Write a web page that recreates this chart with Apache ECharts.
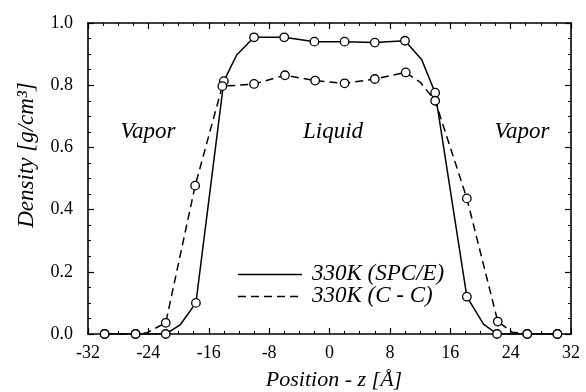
<!DOCTYPE html>
<html><head><meta charset="utf-8">
<script src="https://cdn.jsdelivr.net/npm/echarts@6/dist/echarts.min.js"></script>
<style>html,body{margin:0;padding:0;background:#fff}#c{width:586px;height:392px}</style>
</head><body><div id="c"></div>
<script>
// x ticks / y ticks
const xTicks = [-32, -24, -16, -8, 0, 8, 16, 24, 32];
const yTicks = [0.0, 0.2, 0.4, 0.6, 0.8, 1.0];

// SPC/E (solid) – sampled points shown with circles
const spceZ = [-29.8, -25.7, -21.7, -17.7, -14.0, -10.0, -6.0, -2.0, 2.0, 6.0, 10.0, 14.0, 18.2, 22.2, 26.2, 30.2];
const spceRho = [0, 0, 0, 0.10, 0.813, 0.954, 0.954, 0.940, 0.940, 0.937, 0.943, 0.776, 0.12, 0, 0, 0];
// SPC/E intermediate line vertices (no circles)
const spceZMid = [-19.8, -12.3, 12.2, 20.4];
const spceRhoMid = [0.029, 0.897, 0.883, 0.032];

// C - C (dashed) – sampled points shown with circles
const ccZ = [-29.8, -25.7, -21.7, -17.8, -14.2, -10.0, -5.9, -1.9, 2.0, 6.0, 10.1, 14.0, 18.2, 22.3, 26.2, 30.2];
const ccRho = [0, 0, 0.036, 0.477, 0.797, 0.804, 0.832, 0.815, 0.806, 0.820, 0.841, 0.750, 0.436, 0.040, 0, 0];
// C - C intermediate line vertices
const ccZMid = [-24.2, -12.0, 12.0, 24.2];
const ccRhoMid = [0.004, 0.800, 0.810, 0.006];

const seriesNames = ['330K (SPC/E)', '330K (C - C)'];
const regionLabels = ['Vapor', 'Liquid', 'Vapor'];

function merge(z1, y1, z2, y2) {
  const pts = z1.map((z, i) => [z, y1[i]]).concat(z2.map((z, i) => [z, y2[i]]));
  pts.sort((a, b) => a[0] - b[0]);
  return pts;
}
const pair = (z, y) => z.map((v, i) => [v, y[i]]);

const FONT = 'Liberation Serif';
const chart = echarts.init(document.getElementById('c'), null, {renderer: 'canvas'});

const xBase = {
  type: 'value', min: xTicks[0], max: xTicks[xTicks.length - 1], interval: 8,
  axisLine: {show: true, onZero: false, lineStyle: {color: '#000', width: 1.6}},
  axisTick: {show: true, inside: true, length: 6, lineStyle: {color: '#000', width: 1.2}},
  minorTick: {show: true, splitNumber: 4, length: 3, lineStyle: {color: '#000', width: 1.1}},
  splitLine: {show: false}
};
const yBase = {
  type: 'value', min: yTicks[0], max: yTicks[yTicks.length - 1], interval: 0.2,
  axisLine: {show: true, onZero: false, lineStyle: {color: '#000', width: 1.6}},
  axisTick: {show: true, inside: true, length: 6, lineStyle: {color: '#000', width: 1.2}},
  minorTick: {show: true, splitNumber: 4, length: 3, lineStyle: {color: '#000', width: 1.1}},
  splitLine: {show: false}
};

const markerStyle = {color: '#fff', borderColor: '#000', borderWidth: 1.3, opacity: 1};

chart.setOption({
  animation: false,
  backgroundColor: '#fff',
  grid: {left: 88, right: 15, top: 23, bottom: 58},
  xAxis: [
    Object.assign({}, xBase, {position: 'bottom',
      axisLabel: {show: true, margin: 10, color: '#000', fontFamily: FONT, fontSize: 18,
        formatter: v => String(v)}}),
    Object.assign({}, xBase, {position: 'top', axisLabel: {show: false}})
  ],
  yAxis: [
    Object.assign({}, yBase, {position: 'left',
      axisLabel: {show: true, margin: 15, color: '#000', fontFamily: FONT, fontSize: 18,
        formatter: v => v.toFixed(1)}}),
    Object.assign({}, yBase, {position: 'right', axisLabel: {show: false}})
  ],
  series: [
    {name: seriesNames[0], type: 'line', data: merge(spceZ, spceRho, spceZMid, spceRhoMid),
      showSymbol: false, symbol: 'none', lineStyle: {color: '#000', width: 1.5, type: 'solid'}, z: 2},
    {name: seriesNames[1], type: 'line', data: merge(ccZ, ccRho, ccZMid, ccRhoMid),
      showSymbol: false, symbol: 'none', lineStyle: {color: '#000', width: 1.5, type: [8, 5]}, z: 2},
    {name: seriesNames[0] + ' pts', type: 'scatter', data: pair(spceZ, spceRho),
      symbol: 'circle', symbolSize: 8.5, itemStyle: markerStyle, z: 4},
    {name: seriesNames[1] + ' pts', type: 'scatter', data: pair(ccZ, ccRho),
      symbol: 'circle', symbolSize: 8.5, itemStyle: markerStyle, z: 4}
  ],
  graphic: [
    {type: 'text', x: 148, y: 132, style: {text: regionLabels[0], font: 'italic 23px "Liberation Serif"', fill: '#000', align: 'center', verticalAlign: 'middle'}},
    {type: 'text', x: 333, y: 132, style: {text: regionLabels[1], font: 'italic 23px "Liberation Serif"', fill: '#000', align: 'center', verticalAlign: 'middle'}},
    {type: 'text', x: 522, y: 132, style: {text: regionLabels[2], font: 'italic 23px "Liberation Serif"', fill: '#000', align: 'center', verticalAlign: 'middle'}},
    {type: 'line', shape: {x1: 238, y1: 274.5, x2: 302, y2: 274.5}, style: {stroke: '#000', lineWidth: 1.5}},
    {type: 'line', shape: {x1: 238, y1: 296.5, x2: 302, y2: 296.5}, style: {stroke: '#000', lineWidth: 1.5, lineDash: [8, 5]}},
    {type: 'text', x: 312, y: 274, style: {text: seriesNames[0], font: 'italic 23px "Liberation Serif"', fill: '#000', align: 'left', verticalAlign: 'middle'}},
    {type: 'text', x: 312, y: 296, style: {text: seriesNames[1], font: 'italic 23px "Liberation Serif"', fill: '#000', align: 'left', verticalAlign: 'middle'}},
    {type: 'text', x: 334, y: 380, style: {text: 'Position - z [Å]', font: 'italic 22px "Liberation Serif"', fill: '#000', align: 'center', verticalAlign: 'middle'}},
    {type: 'text', x: 27, y: 155, rotation: Math.PI / 2, style: {text: 'Density [g/cm³]', font: 'italic 23px "Liberation Serif"', fill: '#000', align: 'center', verticalAlign: 'middle'}}
  ]
});
</script></body></html>
